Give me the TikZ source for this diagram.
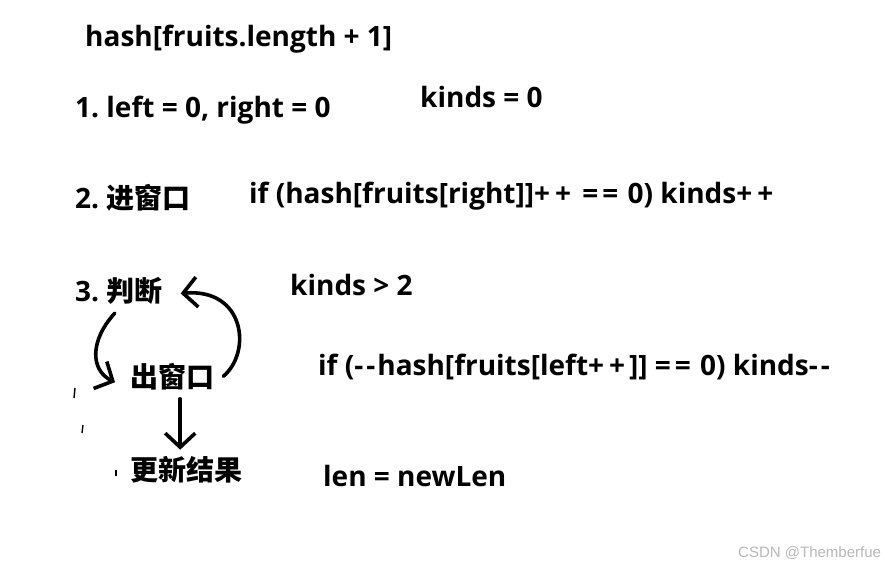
\documentclass[tikz,border=0pt]{standalone}
\usepackage{fontspec}
\setmainfont{Open Sans}[Ligatures=TeXOff]
\newfontfamily\cjk{Noto Sans CJK SC}
\newfontfamily\wmfont{Liberation Sans}
\usetikzlibrary{arrows.meta,positioning}
\frenchspacing
\newcommand\pp{+\kern5pt+\kern4pt}
\newcommand\mm{-\kern3pt-\kern2pt}
\newcommand\eq{=\kern4pt=\kern2pt}

\begin{document}
\begin{tikzpicture}[
    x=1pt, y=-1pt,
    txt/.style={anchor=base west, inner sep=0pt, font=\bfseries\fontsize{28}{32}\selectfont},
    hand/.style={line width=3.6pt, line cap=round, line join=round},
    handarrow/.style={hand, -{Straight Barb[length=14pt, width=30pt]}},
    speck/.style={line width=1.4pt},
    >=Latex
  ]
    \useasboundingbox[fill=white] (0,0) rectangle (891,566);

    \node[txt] (hash) at (85,46) {hash[fruits.length + 1]};
    \node[txt] (init) at (75,117) {1. left = 0, right = 0};
    \node[txt] (kinds) at (420,107) {kinds = 0};

    \node[txt] (enter) at (75,208) {2. {\cjk 进窗口}};
    \node[txt] (entercode) at (249,203) {if (hash[fruits[right]]\pp\ \eq{} 0) kinds\pp};

    \node[txt] (judge) at (75,301) {3. {\cjk 判断}};
    \node[txt] (judgecode) at (290,295) {kinds > 2};

    \node[txt] (leave) at (130,387) {\cjk 出窗口};
    \node[txt] (leavecode) at (318,375) {if (\mm hash[fruits[left\pp]] \eq{} 0) kinds\mm};

    \node[txt] (result) at (130,480) {\cjk 更新结果};
    \node[txt] (resultcode) at (323,486) {len = newLen};

    \node[anchor=base west, inner sep=0pt, text=black!28, font=\wmfont\fontsize{15}{18}\selectfont]
      (mark) at (738,557) {CSDN @Themberfue};

    % hand-drawn arrows
    \draw[handarrow] ([xshift=-4pt,yshift=-9pt]judge.south)
      .. controls (90,340) and (90,370) .. ([xshift=-15pt,yshift=-6pt]leave.west);
    \draw[handarrow] ([xshift=9pt]leave.east)
      .. controls (252,352) and (245,288) .. ([xshift=18pt,yshift=-3pt]judge.east);
    \draw[handarrow] ([xshift=8pt,yshift=-9pt]leave.south) -- ([xshift=-6pt,yshift=6pt]result.north);

    % stray marks
    \draw[speck] (75,388) -- (74,398);
    \draw[speck] (83,425) -- (82,433);
    \draw[speck] (116,470) -- (116,476);
  \end{tikzpicture}
\end{document}
